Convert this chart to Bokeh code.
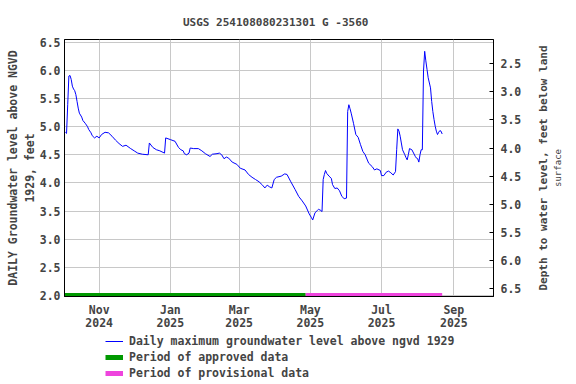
import math
import pandas as pd
from bokeh.plotting import figure
from bokeh.layouts import column, row
from bokeh.models import (ColumnDataSource, FixedTicker, LinearAxis, Range1d,
                          Legend, LegendItem, PrintfTickFormatter, Label)
from bokeh.embed import file_html
from bokeh.resources import INLINE

title_text = "USGS 254108080231301 G  -3560"
left_label = "DAILY Groundwater level above NGVD\n1929, feet"
right_label_1 = "Depth to water level, feet below land"
right_label_2 = "surface"

dates = [
    "2024-10-03", "2024-10-04", "2024-10-05", "2024-10-06", "2024-10-07", "2024-10-08",
    "2024-10-09", "2024-10-10", "2024-10-11", "2024-10-12", "2024-10-13", "2024-10-14",
    "2024-10-15", "2024-10-17", "2024-10-18", "2024-10-20", "2024-10-22", "2024-10-23",
    "2024-10-25", "2024-10-26", "2024-10-28", "2024-10-30", "2024-11-01", "2024-11-03",
    "2024-11-06", "2024-11-09", "2024-11-12", "2024-11-15", "2024-11-18", "2024-11-21",
    "2024-11-24", "2024-11-28", "2024-12-01", "2024-12-04", "2024-12-08", "2024-12-13",
    "2024-12-14", "2024-12-17", "2024-12-20", "2024-12-23", "2024-12-27", "2024-12-28",
    "2025-01-01", "2025-01-05", "2025-01-08", "2025-01-10", "2025-01-12", "2025-01-13",
    "2025-01-15", "2025-01-17", "2025-01-18", "2025-01-21", "2025-01-25", "2025-01-28",
    "2025-01-31", "2025-02-04", "2025-02-06", "2025-02-10", "2025-02-12", "2025-02-14",
    "2025-02-16", "2025-02-18", "2025-02-20", "2025-02-23", "2025-02-27", "2025-03-02",
    "2025-03-06", "2025-03-09", "2025-03-12", "2025-03-15", "2025-03-18", "2025-03-21",
    "2025-03-23", "2025-03-25", "2025-03-27", "2025-03-29", "2025-03-31", "2025-04-02",
    "2025-04-06", "2025-04-09", "2025-04-11", "2025-04-14", "2025-04-18", "2025-04-21",
    "2025-04-24", "2025-04-27", "2025-04-30", "2025-05-02", "2025-05-03", "2025-05-05",
    "2025-05-07", "2025-05-08", "2025-05-10", "2025-05-11", "2025-05-12", "2025-05-13",
    "2025-05-14", "2025-05-15", "2025-05-17", "2025-05-19", "2025-05-20", "2025-05-22",
    "2025-05-24", "2025-05-26", "2025-05-28", "2025-05-30", "2025-06-01", "2025-06-02",
    "2025-06-03", "2025-06-04", "2025-06-05", "2025-06-07", "2025-06-09", "2025-06-11",
    "2025-06-13", "2025-06-15", "2025-06-17", "2025-06-20", "2025-06-23", "2025-06-25",
    "2025-06-27", "2025-06-30", "2025-07-01", "2025-07-03", "2025-07-05", "2025-07-07",
    "2025-07-09", "2025-07-11", "2025-07-13", "2025-07-14", "2025-07-15", "2025-07-16",
    "2025-07-17", "2025-07-18", "2025-07-19", "2025-07-21", "2025-07-22", "2025-07-23",
    "2025-07-24", "2025-07-25", "2025-07-27", "2025-07-28", "2025-07-30", "2025-07-31",
    "2025-08-01", "2025-08-02", "2025-08-03", "2025-08-04", "2025-08-05", "2025-08-06",
    "2025-08-07", "2025-08-08", "2025-08-09", "2025-08-10", "2025-08-12", "2025-08-13",
    "2025-08-14", "2025-08-15", "2025-08-16", "2025-08-17", "2025-08-18", "2025-08-19",
    "2025-08-20", "2025-08-21", "2025-08-22",
]
levels = [
    4.90, 4.88, 5.39, 5.90, 5.91, 5.84,
    5.72, 5.67, 5.64, 5.57, 5.45, 5.33,
    5.24, 5.17, 5.11, 5.06, 5.00, 4.95,
    4.89, 4.84, 4.80, 4.83, 4.80, 4.86,
    4.90, 4.89, 4.83, 4.76, 4.70, 4.65,
    4.67, 4.61, 4.57, 4.53, 4.51, 4.50,
    4.71, 4.63, 4.59, 4.57, 4.53, 4.80,
    4.77, 4.74, 4.63, 4.59, 4.57, 4.52,
    4.50, 4.53, 4.62, 4.61, 4.61, 4.57,
    4.52, 4.47, 4.51, 4.52, 4.53, 4.50,
    4.43, 4.46, 4.44, 4.37, 4.33, 4.26,
    4.23, 4.15, 4.10, 4.06, 4.02, 3.96,
    3.91, 3.96, 3.93, 3.91, 4.06, 4.10,
    4.12, 4.16, 4.15, 4.03, 3.88, 3.76,
    3.68, 3.59, 3.45, 3.38, 3.34, 3.47,
    3.51, 3.53, 3.51, 3.49, 4.06, 4.15,
    4.22, 4.17, 4.12, 4.08, 3.97, 3.90,
    3.91, 3.86, 3.76, 3.72, 3.73, 5.27,
    5.39, 5.32, 5.24, 5.06, 4.86, 4.81,
    4.68, 4.56, 4.50, 4.35, 4.29, 4.23,
    4.25, 4.22, 4.13, 4.13, 4.19, 4.21,
    4.18, 4.14, 4.20, 4.59, 4.96, 4.92,
    4.83, 4.71, 4.59, 4.50, 4.45, 4.41,
    4.50, 4.61, 4.59, 4.55, 4.47, 4.44,
    4.43, 4.37, 4.50, 4.59, 4.59, 5.99,
    6.34, 6.17, 6.02, 5.87, 5.69, 5.45,
    5.27, 5.13, 5.01, 4.92, 4.86, 4.90,
    4.93, 4.92, 4.87,
]

approved_period = ["2024-10-01", "2025-04-27"]
provisional_period = ["2025-04-27", "2025-08-22"]
period_level = 2.0

land_surface = 8.62  # level + depth
x_tick_dates = ["2024-11-01", "2025-01-01", "2025-03-01", "2025-05-01", "2025-07-01", "2025-09-01"]
x_tick_labels = ["Nov\n2024", "Jan\n2025", "Mar\n2025", "May\n2025", "Jul\n2025", "Sep\n2025"]
left_ticks = [2.0, 2.5, 3.0, 3.5, 4.0, 4.5, 5.0, 5.5, 6.0, 6.5]
right_ticks = [2.5, 3.0, 3.5, 4.0, 4.5, 5.0, 5.5, 6.0, 6.5]

legend_labels = ["Daily maximum groundwater level above ngvd 1929",
                 "Period of approved data",
                 "Period of provisional data"]

FONT = "DejaVu Sans Mono"
FS = "11.5px"
BLUE, GREEN, PINK = "#0000ff", "#009900", "#ee44dd"


def ms(d):
    return pd.Timestamp(d).value // 10**6


y_lo, y_hi = 1.98, 6.55
x_lo = pd.Timestamp("2024-10-02 06:00")
x_hi = pd.Timestamp("2025-10-05 00:00")

TOTAL_W = 576
RW = 43                      # strip holding the right-hand title
W, H = TOTAL_W - RW, 333     # main chart
BL, BR, BT, BB = 64, 40, 39, 37
LH = 51                      # legend strip

p = figure(width=W, height=H, x_axis_type="datetime",
           x_range=(x_lo, x_hi), y_range=Range1d(y_lo, y_hi),
           output_backend="svg", toolbar_location=None,
           min_border_left=BL, min_border_right=BR,
           min_border_top=BT, min_border_bottom=BB)

p.title.text = title_text
p.title.align = "center"
p.title.text_font = FONT
p.title.text_font_size = "11px"
p.title.text_font_style = "bold"
p.title.standoff = 21

p.outline_line_color = "black"
p.outline_line_width = 1
p.background_fill_color = "white"
p.border_fill_color = "white"

src = ColumnDataSource(dict(date=pd.to_datetime(dates), level=levels))
app_src = ColumnDataSource(dict(date=pd.to_datetime(approved_period),
                                level=[period_level, period_level]))
prov_src = ColumnDataSource(dict(date=pd.to_datetime(provisional_period),
                                 level=[period_level, period_level]))
p.line("date", "level", source=src, line_color=BLUE, line_width=1)
p.line("date", "level", source=app_src, line_color=GREEN, line_width=5)
p.line("date", "level", source=prov_src, line_color=PINK, line_width=5)

# x axis
xa = p.xaxis[0]
xa.ticker = FixedTicker(ticks=[ms(d) for d in x_tick_dates])
xa.major_label_overrides = {ms(d): lab for d, lab in zip(x_tick_dates, x_tick_labels)}
xa.major_tick_in = 0
xa.major_tick_out = 0
xa.minor_tick_line_color = None
xa.major_label_standoff = 6
xa.major_label_text_font = FONT
xa.major_label_text_font_size = FS
xa.major_label_text_font_style = "bold"
xa.major_label_text_line_height = 0.95
xa.axis_line_color = "black"

# left axis
ya = p.yaxis[0]
ya.ticker = FixedTicker(ticks=left_ticks)
ya.formatter = PrintfTickFormatter(format="%.1f")
ya.major_tick_in = 0
ya.major_tick_out = 0
ya.minor_tick_line_color = None
ya.major_label_standoff = 4
ya.major_label_text_font = FONT
ya.major_label_text_font_size = FS
ya.major_label_text_font_style = "bold"
ya.axis_label = left_label
ya.axis_label_standoff = 0
ya.axis_label_text_font = FONT
ya.axis_label_text_font_size = FS
ya.axis_label_text_font_style = "bold"
ya.axis_label_text_line_height = 1.2

# right axis (depth below land surface)
p.extra_y_ranges = {"depth": Range1d(land_surface - y_lo, land_surface - y_hi)}
ra = LinearAxis(y_range_name="depth")
ra.ticker = FixedTicker(ticks=right_ticks)
ra.formatter = PrintfTickFormatter(format="%.1f")
ra.major_tick_in = 4
ra.major_tick_out = 0
ra.minor_tick_line_color = None
ra.major_label_standoff = 7
ra.major_label_text_font = FONT
ra.major_label_text_font_size = FS
ra.major_label_text_font_style = "bold"
p.add_layout(ra, "right")

p.xgrid.grid_line_color = "#c8c8c8"
p.ygrid.grid_line_color = "#c8c8c8"

# strip to the right carrying the depth-axis title (reads bottom to top)
r = figure(width=RW, height=H, x_range=(0, 1), y_range=(0, 1),
           output_backend="svg", toolbar_location=None,
           min_border_left=0, min_border_right=0,
           min_border_top=BT, min_border_bottom=BB)
r.axis.visible = False
r.grid.visible = False
r.outline_line_color = None
r.background_fill_color = "white"
r.border_fill_color = "white"
r.add_layout(Label(x=10 / RW, y=0.5, text=right_label_1, angle=math.pi / 2,
                   text_align="center", text_baseline="middle",
                   text_font=FONT, text_font_size="11px", text_font_style="bold"))
r.add_layout(Label(x=24 / RW, y=0.5, text=right_label_2, angle=math.pi / 2,
                   text_align="center", text_baseline="middle",
                   text_font=FONT, text_font_size="9px", text_font_style="normal"))

# legend strip below the chart (its series lie outside its empty view)
q = figure(width=TOTAL_W, height=LH, x_range=(0, 1), y_range=(0, 1),
           output_backend="svg", toolbar_location=None,
           min_border_left=BL, min_border_right=TOTAL_W - (W - BR),
           min_border_top=0, min_border_bottom=0)
q.axis.visible = False
q.grid.visible = False
q.outline_line_color = None
q.background_fill_color = "white"
q.border_fill_color = "white"
g_line = q.line("date", "level", source=src, line_color=BLUE, line_width=1)
g_app = q.line("date", "level", source=app_src, line_color=GREEN, line_width=5)
g_prov = q.line("date", "level", source=prov_src, line_color=PINK, line_width=5)
legend = Legend(items=[LegendItem(label=legend_labels[0], renderers=[g_line]),
                       LegendItem(label=legend_labels[1], renderers=[g_app]),
                       LegendItem(label=legend_labels[2], renderers=[g_prov])],
                location=(41, LH - 48), orientation="vertical",
                glyph_width=18, glyph_height=16, label_height=16,
                label_standoff=6, spacing=0, padding=0, margin=0,
                label_text_font=FONT, label_text_font_size=FS,
                label_text_font_style="bold",
                background_fill_alpha=0, border_line_color=None)
q.add_layout(legend)

layout = column(row(p, r, spacing=0), q, spacing=0)
open("out.html", "w").write(file_html(layout, INLINE))
